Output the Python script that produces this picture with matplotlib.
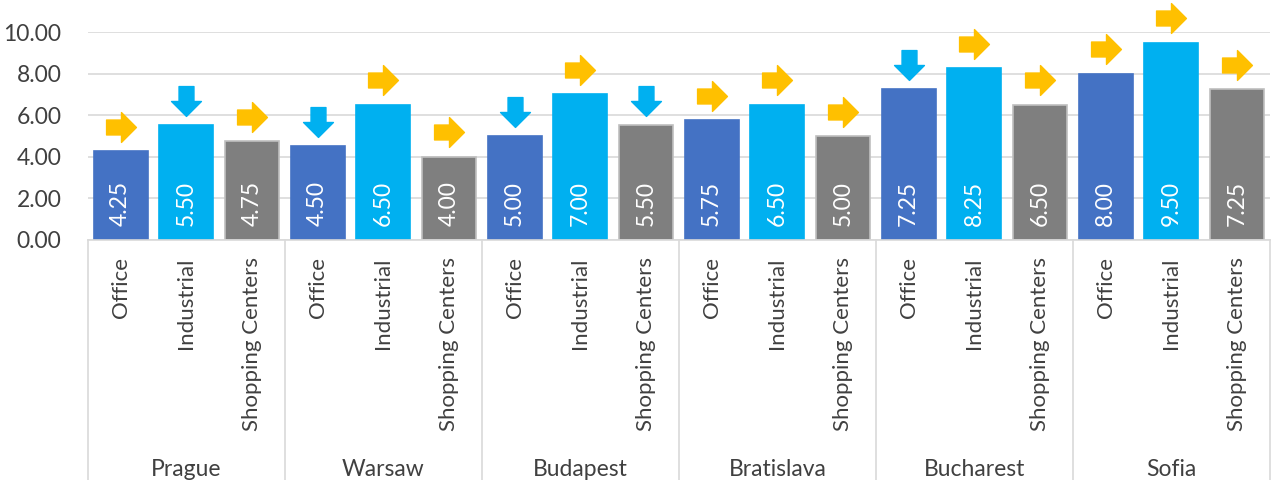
import numpy as np
import matplotlib
matplotlib.use("Agg")
import matplotlib.pyplot as plt
from matplotlib import transforms
from matplotlib.path import Path

plt.rcParams["font.family"] = ["Lato", "DejaVu Sans"]

cities = ["Prague", "Warsaw", "Budapest", "Bratislava", "Bucharest", "Sofia"]
sectors = ["Office", "Industrial", "Shopping Centers"]
office = [4.25, 4.50, 5.00, 5.75, 7.25, 8.00]
industrial = [5.50, 6.50, 7.00, 6.50, 8.25, 9.50]
shopping = [4.75, 4.00, 5.50, 5.00, 6.50, 7.25]
# trend arrows: "r" = stable (right, yellow), "d" = down (blue)
office_trend = ["r", "d", "d", "r", "d", "r"]
industrial_trend = ["d", "r", "r", "r", "r", "r"]
shopping_trend = ["r", "r", "d", "r", "r", "r"]

colors = ["#4472C4", "#00B0F0", "#7F7F7F"]
edges = ["#4472C4", "#00B0F0", "#BFBFBF"]

right_arrow = Path([(-1, -0.5), (0, -0.5), (0, -1), (1, 0), (0, 1), (0, 0.5), (-1, 0.5), (-1, -0.5)], closed=True)
down_arrow = Path([(-0.5, 1), (-0.5, 0), (-1, 0), (0, -1), (1, 0), (0.5, 0), (0.5, 1), (-0.5, 1)], closed=True)

fig = plt.figure(figsize=(12.76, 4.8), dpi=100)
ax = fig.add_axes([0.0688, 0.501, 0.9264, 0.432])

series = [office, industrial, shopping]
trends = [office_trend, industrial_trend, shopping_trend]
for j, (vals, tr) in enumerate(zip(series, trends)):
    x = np.arange(len(cities)) * 3 + j
    ax.bar(x, vals, width=0.82, color=colors[j], edgecolor=edges[j], linewidth=1.2, zorder=2)
    for xi, v, t in zip(x, vals, tr):
        ax.text(xi, 0.65, f"{v:.2f}", rotation=90, ha="center", va="bottom",
                color="white", fontsize=16.5, zorder=3)
        if t == "r":
            ax.plot(xi, v + 1.17, marker=right_arrow, markersize=21.5, color="#FFC000",
                    linestyle="none", clip_on=False, zorder=3)
        else:
            ax.plot(xi, v + 1.17, marker=down_arrow, markersize=21.5, color="#00B0F0",
                    linestyle="none", clip_on=False, zorder=3)

ax.set_xlim(-0.5, 3 * len(cities) - 0.5)
ax.set_ylim(0, 10)
ax.set_yticks(np.arange(0, 10.01, 2))
ax.set_yticklabels([f"{t:.2f}" for t in np.arange(0, 10.01, 2)], fontsize=16.5, color="#404040")
ax.tick_params(axis="y", length=0, pad=19)
ax.set_xticks([])
ax.grid(axis="y", color="#D9D9D9", linewidth=1.2, zorder=0)
for s in ["left", "right", "top"]:
    ax.spines[s].set_visible(False)
ax.spines["bottom"].set_color("#D9D9D9")
ax.spines["bottom"].set_linewidth(1.2)

# category labels
for i in range(len(cities)):
    for j, name in enumerate(sectors):
        ax.text(i * 3 + j, -0.85, name, rotation=90, ha="center", va="top",
                fontsize=16, color="#404040", clip_on=False)

# group separators and city labels
tr = transforms.blended_transform_factory(ax.transData, fig.transFigure)
for i in range(len(cities) + 1):
    xs = i * 3 - 0.5
    ax.plot([xs, xs], [0, 0.501], color="#D9D9D9", linewidth=1.2, transform=tr, clip_on=False)
for i, c in enumerate(cities):
    ax.text(i * 3 + 1, 0.022, c, ha="center", va="center", fontsize=16.5,
            color="#404040", transform=tr)

fig.savefig("out.png", dpi=100)
